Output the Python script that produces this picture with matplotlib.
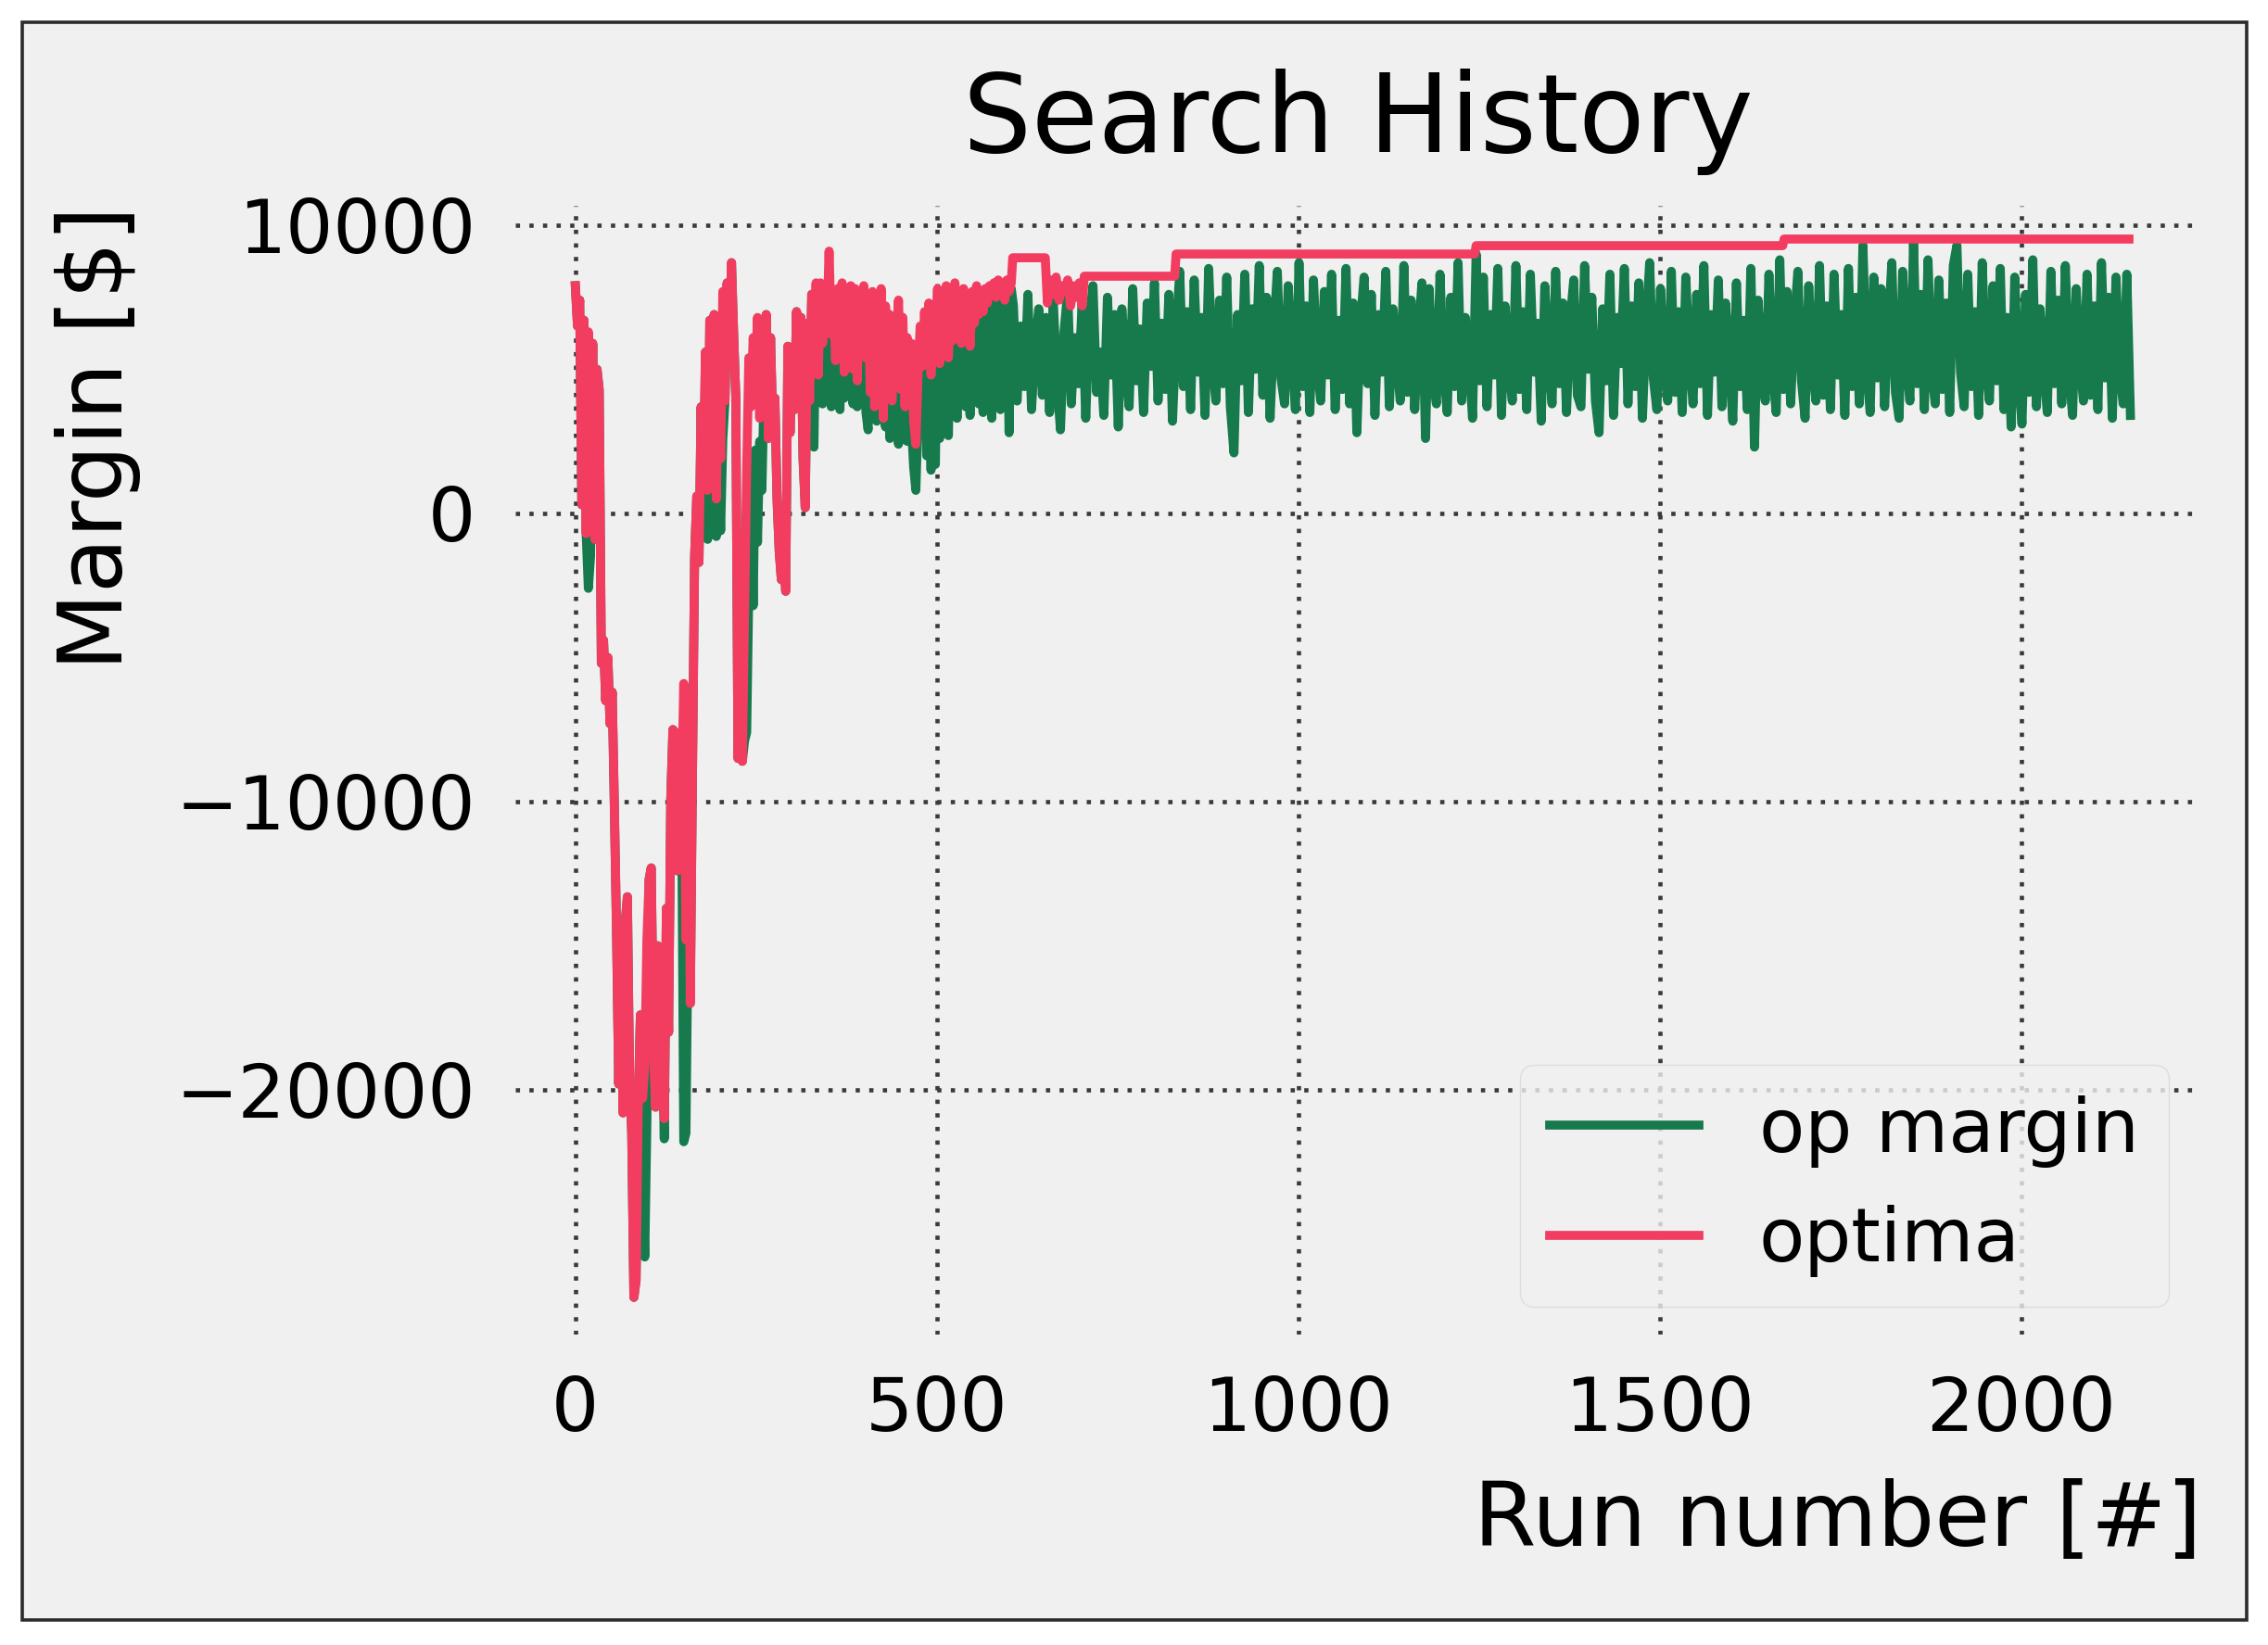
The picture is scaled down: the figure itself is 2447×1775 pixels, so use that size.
import numpy as np
import matplotlib.pyplot as plt
from matplotlib.patches import Rectangle

# run numbers (x) - early runs are denser because the curve moves a lot there
early_runs = np.arange(0, 604, 3)
late_runs = np.arange(606, 2152, 5)

# op margin [$] for the early runs (0..603)
margin_early = [
    7900, 6500, 7400, 300, 6700, -700, -2600, -1500, 5900, -900,
    5000, 4300, -5200, -4400, -6500, -5000, -7300, -6200, -10200, -14500,
    -19800, -15500, -20800, -14200, -13300, -19600, -21500, -27200, -26600, -20500,
    -17400, -22500, -25800, -21000, -12700, -12300, -18500, -20600, -15000, -19800,
    -17600, -21700, -13700, -18000, -9900, -7500, -8200, -12400, -7600, -9800,
    -21800, -21500, -14000, -17000, -9000, -1500, 600, -1700, 3700, -700,
    5600, -900, 6700, 2800, 6900, -800, 2000, -600, 2600, 3900,
    8000, 5600, 8700, 6200, 4000, -8500, -7000, -8600, -7900, -7600,
    -2500, 1200, -3200, 2200, -1000, 2500, 800, 4200, 6900, 2600,
    6100, 3100, 4000, 500, -1300, -2300, -1000, -2700, 5800, 2800,
    5300, 3600, 7000, 4300, 6800, 1900, 200, 6600, 3900, 7600,
    2300, 7600, 4100, 7400, 3800, 7500, 4300, 7000, 3700, 7200,
    4400, 7100, 3600, 7400, 4000, 6900, 4500, 7300, 3800, 7000,
    3700, 6800, 4200, 7300, 3500, 2900, 6600, 3300, 7000, 3200,
    6500, 3900, 6900, 3000, 6400, 2600, 6200, 3400, 6700, 2400,
    6300, 3100, 5900, 2500, 5800, 3000, 1600, 800, 3400, 6000,
    2800, 6500, 2000, 6400, 1500, 5800, 1700, 6900, 2600, 6500,
    3200, 7200, 2700, 6800, 3600, 7400, 3300, 7100, 4000, 7500,
    3700, 6900, 3400, 7300, 4100, 7600, 3800, 7200, 3500, 7700,
    4000, 7400, 3300, 7800, 3900, 7600, 3600, 7900, 4200, 7500,
    2800, 7800,
]

# optima [$] for the early runs (0..603)
optima_early = [
    7900, 6500, 7400, 300, 6700, -700, 6300, 200, 5900, -900,
    5000, 4300, -5200, -4400, -6500, -5000, -7300, -6200, -10200, -14500,
    -19800, -15500, -20800, -14200, -13300, -19600, -21500, -27200, -26600, -20500,
    -17400, -20300, -19200, -14800, -12700, -12300, -18500, -20600, -15000, -19800,
    -17600, -21000, -13700, -18000, -9900, -7500, -8200, -12400, -7600, -9800,
    -5900, -14800, -6400, -17000, -9000, -1500, 600, -1700, 3700, 1200,
    5600, 800, 6700, 2800, 6900, 500, 5400, 1900, 7700, 3900,
    8000, 5600, 8700, 6200, 4000, -8500, -7000, -8600, -3500, 1500,
    5400, 3700, 6100, 4600, 6800, 3300, 6600, 4200, 6900, 2600,
    6100, 3100, 4000, 500, -1300, -2300, -1000, -2700, 5800, 2800,
    5300, 3600, 7000, 4300, 6800, 1900, 200, 6600, 3900, 7600,
    5200, 8000, 4800, 8000, 5900, 7800, 6500, 9100, 6200, 7600,
    5300, 7800, 5600, 8000, 4900, 7700, 6100, 7900, 5000, 7800,
    4600, 7500, 6200, 7900, 5400, 7300, 4200, 7700, 3700, 7000,
    5100, 7800, 3300, 7200, 4800, 6900, 3900, 6500, 5600, 7400,
    4300, 6800, 3700, 6100, 4600, 5900, 3200, 2400, 4800, 6500,
    5100, 7000, 5700, 7300, 4800, 6800, 6100, 7800, 5200, 7100,
    6300, 7900, 5400, 7500, 6000, 8000, 6700, 7600, 5900, 7800,
    6400, 7300, 5800, 7700, 6600, 7900, 6900, 7500, 7000, 7800,
    7300, 7900, 7600, 8000, 7500, 8100, 7700, 8000, 7400, 8100,
    7700, 8000,
]

# op margin [$] for the late runs (606..2151)
margin_late = [
    7200, 3900, 6500, 4400, 7600, 3600, 5800, 7100, 4100, 6800,
    3500, 7400, 4700, 2900, 6300, 7700, 3800, 6100, 4500, 7300,
    3300, 6700, 7900, 4200, 5600, 3400, 7500, 4800, 6900, 3000,
    7100, 5200, 3700, 7800, 4600, 6400, 3500, 7300, 5100, 8000,
    3900, 6600, 4300, 7600, 3200, 6200, 8400, 4400, 7000, 3600,
    8100, 4900, 6800, 3400, 8500, 5300, 3900, 7400, 4500, 8200,
    3700, 2100, 6900, 4600, 8300, 3500, 7100, 5000, 8600, 4100,
    7500, 3300, 6300, 8400, 4700, 3800, 7900, 5500, 3600, 8700,
    4400, 7200, 3500, 8100, 5200, 3900, 7700, 4800, 8300, 3600,
    6700, 4300, 8500, 3800, 7300, 2800, 6600, 8200, 4500, 7600,
    3400, 6900, 4900, 8400, 3700, 7100, 5400, 3900, 8600, 4200,
    7400, 3600, 6200, 8000, 2600, 7800, 4700, 3800, 8300, 5000,
    3500, 7500, 4400, 8700, 3900, 6800, 5300, 3300, 9000, 4600,
    8200, 3700, 6900, 4800, 8500, 3400, 7200, 5100, 3900, 8600,
    4300, 7000, 3600, 8300, 4900, 6600, 3200, 7900, 5400, 3800,
    8400, 4500, 7300, 3500, 6700, 8100, 4100, 3700, 8600, 5000,
    7500, 3900, 2800, 7100, 4600, 8300, 3400, 6800, 5200, 8500,
    3800, 7200, 4400, 8000, 3300, 6500, 8700, 4700, 3600, 7800,
    5100, 3900, 8400, 4200, 7000, 3500, 8200, 5400, 3800, 7600,
    4500, 8600, 3400, 6900, 4900, 8100, 3700, 7300, 5300, 3200,
    8000, 4400, 6700, 3600, 8500, 2300, 7400, 4800, 3900, 8300,
    5000, 3500, 8800, 4300, 7700, 3800, 6600, 8400, 4600, 3300,
    7900, 5200, 3900, 8600, 4100, 7200, 3600, 8300, 4800, 6900,
    3400, 8500, 4400, 7500, 3800, 9300, 5100, 3500, 8200, 4700,
    7800, 3700, 6500, 8700, 4200, 3300, 8400, 5300, 3900, 9400,
    4500, 7600, 3600, 8800, 5000, 3800, 8100, 4300, 7300, 3500,
    8600, 9300, 4900, 3700, 8300, 4400, 7000, 3400, 8700, 5200,
    3900, 7900, 4600, 8500, 3600, 6800, 3000, 8200, 4800, 3100,
    7600, 4200, 8800, 3700, 7100, 5100, 3500, 8400, 4500, 7400,
    3800, 8600, 4900, 3400, 7800, 5300, 3900, 8300, 4100, 7200,
    3600, 8700, 4700, 7500, 3300, 8200, 5000, 3800, 8300, 3400,
]

# optima after run 603: a short noisy stretch, then flat steps
optima_late_runs = [605, 650, 653, 657, 661, 665, 669, 673, 677, 681, 685, 689, 693,
                    697, 701, 704, 829, 831, 1244, 1246, 1670, 1672, 2149]
optima_late = [8870, 8870, 7300, 8100, 7600, 8200, 7400, 7900, 7700, 8100, 7200, 7900, 7500,
               8000, 7200, 8230, 8230, 9000, 9000, 9290, 9290, 9520, 9520]

margin_runs = np.concatenate([early_runs, late_runs])
margin = np.array(margin_early + margin_late)
optima_runs = np.concatenate([early_runs, optima_late_runs])
optima = np.array(optima_early + optima_late)

W, H = 2447, 1775
fig = plt.figure(figsize=(W / 100, H / 100), dpi=100, facecolor='white')
# grey panel with dark frame (white strip outside it)
fig.patches.append(Rectangle((24 / W, 27 / H), 2400 / W, 1724 / H, transform=fig.transFigure,
                             facecolor='#f0f0f0', edgecolor='#2b2b2b', linewidth=2.6, zorder=-5))

ax = fig.add_axes([556 / W, 1 - 1440 / H, (2375 - 556) / W, (1440 - 222) / H])
ax.set_facecolor('#f0f0f0')
for s in ax.spines.values():
    s.set_visible(False)

ax.plot(margin_runs, margin, color='#167a4c', lw=7, label='op margin', zorder=2)
ax.plot(optima_runs, optima, color='#f23d61', lw=7, label='optima', zorder=3)

ax.set_xlim(-83, 2249)
ax.set_ylim(-28490, 10675)
ax.set_xticks([0, 500, 1000, 1500, 2000])
ax.set_yticks([-20000, -10000, 0, 10000])
ax.tick_params(length=0, pad=31, labelsize=58)
ax.set_axisbelow(True)
ax.grid(True, color='#3a3a3a', linestyle=(0, (1, 2.2)), linewidth=3.3)

ax.set_title('Search History', fontsize=84, pad=42)
ax.set_xlabel('Run number [#]', fontsize=70, loc='right')
ax.xaxis.set_label_coords(1.0, -0.127)
ax.set_ylabel(r'Margin [\$]', fontsize=70, loc='top')
ax.yaxis.set_label_coords(-0.222, 1.0)

ax.legend(loc='lower right', bbox_to_anchor=(0.9808, 0.0246), borderaxespad=0,
          fontsize=58, framealpha=0.8, facecolor='#f0f0f0', edgecolor='#d9d9d9', fancybox=True)

fig.savefig('out.png', dpi=100, facecolor=fig.get_facecolor())
